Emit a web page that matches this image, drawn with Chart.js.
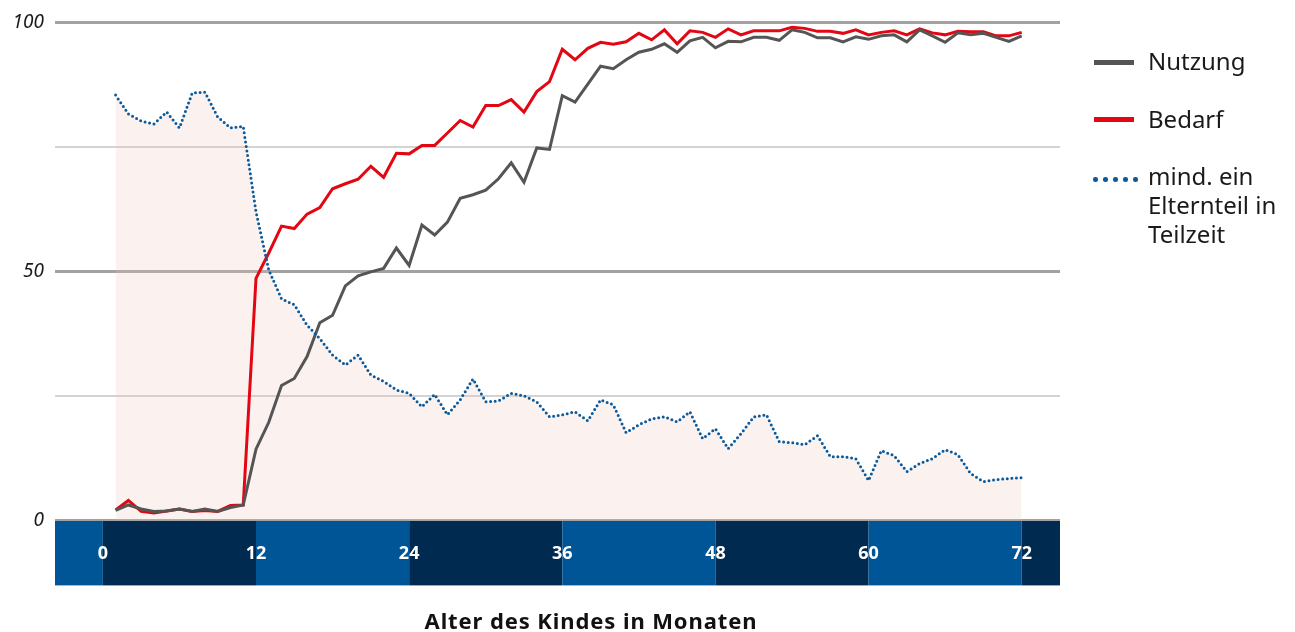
<!DOCTYPE html>
<html lang="de">
<head>
<meta charset="utf-8">
<title>Nutzung und Bedarf nach Alter des Kindes</title>
<script src="https://cdn.jsdelivr.net/npm/chart.js@4.4.1/dist/chart.umd.min.js"></script>
<style>
  body { margin: 0; background: #fff; font-family: "Noto Sans", sans-serif; }
  #wrap { position: relative; width: 1295px; height: 632px; }
  .legText { position: absolute; left: 1148px; font-size: 24px; line-height: 29px; color: #1a1a1a; white-space: nowrap; }
  .swatch { position: absolute; left: 1094px; width: 40px; height: 5px; }
  .dots { position: absolute; left: 1093px; top: 177px; display: flex; gap: 5.5px; }
  .dots span { width: 4.5px; height: 4.5px; border-radius: 50%; background: #0b5a9b; }
  #xTitle { position: absolute; left: 341px; width: 500px; top: 606px; text-align: center;
            font-size: 22px; font-weight: bold; letter-spacing: 0.9px; line-height: 28px; color: #111; }
</style>
</head>
<body>
<div id="wrap">
  <canvas id="myChart" width="1295" height="632"></canvas>
  <div class="swatch" style="top:60px;background:#555555"></div>
  <div class="legText" style="top:46px">Nutzung</div>
  <div class="swatch" style="top:117px;background:#e30613"></div>
  <div class="legText" style="top:104px">Bedarf</div>
  <div class="dots"><span></span><span></span><span></span><span></span><span></span></div>
  <div class="legText" style="top:161px">mind. ein<br>Elternteil in<br>Teilzeit</div>
  <div id="xTitle">Alter des Kindes in Monaten</div>
</div>
<script>
'use strict'

// months 1..72
const months = [1, 2, 3, 4, 5, 6, 7, 8, 9, 10, 11, 12,
  13, 14, 15, 16, 17, 18, 19, 20, 21, 22, 23, 24,
  25, 26, 27, 28, 29, 30, 31, 32, 33, 34, 35, 36,
  37, 38, 39, 40, 41, 42, 43, 44, 45, 46, 47, 48,
  49, 50, 51, 52, 53, 54, 55, 56, 57, 58, 59, 60,
  61, 62, 63, 64, 65, 66, 67, 68, 69, 70, 71, 72];

const nutzung = [2.0, 3.1, 2.3, 1.8, 1.9, 2.3, 1.8, 2.3, 1.8, 2.6, 3.1, 14.3,
  19.7, 27.1, 28.5, 32.9, 39.7, 41.2, 47.1, 49.1, 49.9, 50.6, 54.7, 51.2,
  59.3, 57.3, 59.9, 64.7, 65.4, 66.3, 68.6, 71.8, 67.9, 74.8, 74.5, 85.3,
  84.0, 87.6, 91.2, 90.7, 92.5, 94.0, 94.6, 95.7, 94.0, 96.3, 97.0, 94.9,
  96.2, 96.1, 97.0, 97.0, 96.4, 98.5, 98.0, 96.9, 96.9, 96.1, 97.1, 96.6,
  97.3, 97.5, 96.1, 98.5, 97.3, 96.0, 97.9, 97.5, 97.8, 97.0, 96.2, 97.3];

const bedarf = [2.1, 4.0, 1.8, 1.5, 1.9, 2.3, 1.8, 2.0, 1.8, 3.0, 3.1, 48.6,
  53.7, 59.1, 58.6, 61.5, 62.8, 66.6, 67.6, 68.5, 71.1, 68.9, 73.7, 73.6,
  75.3, 75.3, 77.8, 80.3, 79.0, 83.3, 83.3, 84.5, 82.0, 86.1, 88.1, 94.6,
  92.5, 94.8, 96.0, 95.6, 96.1, 97.8, 96.5, 98.5, 95.7, 98.3, 98.0, 97.0,
  98.7, 97.5, 98.3, 98.3, 98.3, 99.0, 98.8, 98.2, 98.2, 97.8, 98.5, 97.5,
  98.0, 98.3, 97.5, 98.7, 97.9, 97.5, 98.2, 98.1, 98.1, 97.3, 97.3, 98.0];

const teilzeit = [85.4, 81.6, 80.2, 79.6, 82.0, 78.8, 85.8, 86.0, 81.0, 78.8, 79.1, 62.0,
  50.3, 44.5, 43.3, 39.2, 36.5, 33.2, 31.2, 33.2, 29.2, 27.9, 26.2, 25.5,
  22.8, 25.3, 21.2, 24.2, 28.4, 23.8, 24.0, 25.5, 25.0, 23.8, 20.8, 21.2,
  21.8, 20.0, 24.2, 23.2, 17.6, 19.2, 20.4, 20.8, 19.8, 21.8, 16.4, 18.4,
  14.4, 17.4, 20.8, 21.2, 15.8, 15.6, 15.2, 17.0, 12.8, 12.8, 12.4, 8.0,
  14.0, 13.0, 9.8, 11.4, 12.4, 14.2, 13.2, 9.4, 7.8, 8.2, 8.4, 8.6];

const xTicks = [0, 12, 24, 36, 48, 60, 72];
const yTicks = [0, 25, 50, 75, 100];
const yLabels = [0, 50, 100];

const FONT = '"Noto Sans", sans-serif';
const lightBlue = '#005597';
const darkBlue = '#002a50';

const toPoints = (values) => values.map((v, i) => ({ x: months[i], y: v }));

// blue/navy month bands under the plot area
const bandPlugin = {
  id: 'bands',
  beforeDraw(chart) {
    const { ctx, chartArea, scales } = chart;
    const x = scales.x;
    const edges = [x.min, ...xTicks, x.max];
    ctx.save();
    for (let i = 0; i < edges.length - 1; i++) {
      const x0 = x.getPixelForValue(edges[i]);
      const x1 = x.getPixelForValue(edges[i + 1]);
      ctx.fillStyle = i % 2 === 0 ? lightBlue : darkBlue;
      ctx.fillRect(x0, chartArea.bottom, x1 - x0, 65);
    }
    ctx.restore();
  }
};

const ctx = document.getElementById('myChart');

new Chart(ctx, {
  type: 'line',
  data: {
    datasets: [
      {
        label: 'mind. ein Elternteil in Teilzeit',
        data: toPoints(teilzeit),
        borderColor: '#0b5a9b',
        borderWidth: 3,
        borderDash: [0, 4.6],
        borderCapStyle: 'round',
        fill: 'origin',
        backgroundColor: 'rgba(238, 200, 190, 0.24)',
        pointRadius: 0,
        tension: 0,
        order: 0
      },
      {
        label: 'Nutzung',
        data: toPoints(nutzung),
        borderColor: '#555555',
        borderWidth: 3,
        fill: false,
        pointRadius: 0,
        tension: 0,
        order: 1
      },
      {
        label: 'Bedarf',
        data: toPoints(bedarf),
        borderColor: '#e30613',
        borderWidth: 3,
        fill: false,
        pointRadius: 0,
        tension: 0,
        order: 2
      }
    ]
  },
  options: {
    responsive: false,
    animation: false,
    devicePixelRatio: 1,
    events: [],
    layout: { padding: { top: 20, right: 235, bottom: 44, left: 0 } },
    plugins: {
      legend: { display: false },
      tooltip: { enabled: false },
      filler: { drawTime: 'beforeDatasetsDraw' }
    },
    scales: {
      x: {
        type: 'linear',
        min: -3.75,
        max: 75,
        afterBuildTicks: (scale) => { scale.ticks = xTicks.map((v) => ({ value: v })); },
        grid: { display: false, drawTicks: false },
        border: { display: false },
        ticks: {
          autoSkip: false,
          maxRotation: 0,
          padding: 23,
          color: '#ffffff',
          font: { family: FONT, size: 18, weight: 'bold' }
        }
      },
      y: {
        min: 0,
        max: 100,
        afterBuildTicks: (scale) => { scale.ticks = yTicks.map((v) => ({ value: v })); },
        afterFit: (scale) => { scale.width = 55; },
        grid: {
          drawTicks: false,
          color: (c) => (c.tick && c.tick.value % 50 === 0 ? '#a2a2a2' : '#d3d3d3'),
          lineWidth: (c) => (c.tick && c.tick.value % 50 === 0 && c.tick.value !== 0 ? 3 : 2)
        },
        border: { display: false },
        ticks: {
          padding: 11,
          color: '#1a1a1a',
          font: { family: FONT, size: 19, style: 'italic' },
          callback: (value) => (yLabels.includes(value) ? String(value) : '')
        }
      }
    }
  },
  plugins: [bandPlugin]
});
</script>
</body>
</html>
